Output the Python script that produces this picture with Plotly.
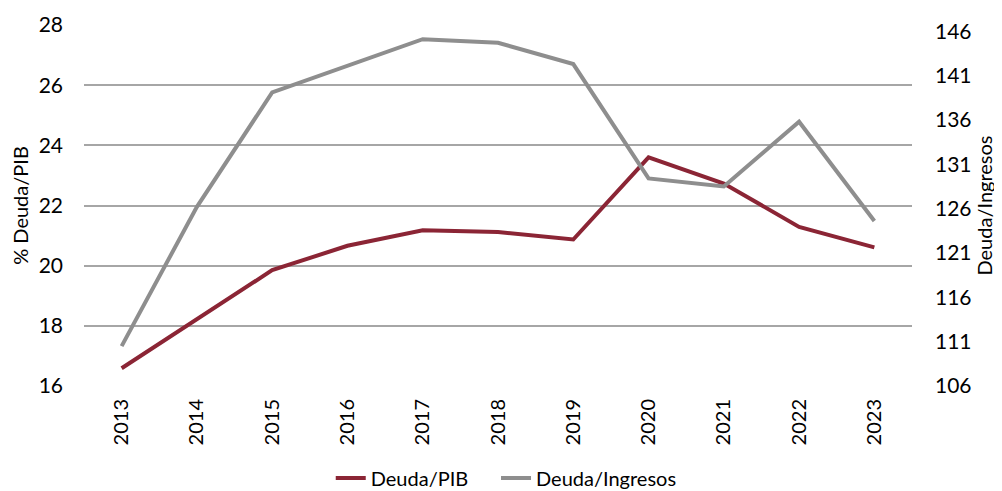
import plotly.graph_objects as go

years = ["2013", "2014", "2015", "2016", "2017", "2018", "2019", "2020", "2021", "2022", "2023"]
deuda_pib = [16.59, 18.22, 19.85, 20.66, 21.18, 21.12, 20.87, 23.60, 22.73, 21.29, 20.61]
deuda_ingresos = [110.5, 126.2, 139.1, 142.1, 145.1, 144.7, 142.3, 129.4, 128.5, 135.8, 124.6]
left_ticks = [16, 18, 20, 22, 24, 26, 28]
right_ticks = [106, 111, 116, 121, 126, 131, 136, 141, 146]

RED = "#8B2535"
GRAY = "#8E8E8E"
FONT = "Lato"

fig = go.Figure()
fig.add_trace(go.Scatter(x=years, y=deuda_pib, name="Deuda/PIB", mode="lines",
                         line=dict(color=RED, width=4), yaxis="y", legend="legend"))
fig.add_trace(go.Scatter(x=years, y=deuda_ingresos, name="Deuda/Ingresos", mode="lines",
                         line=dict(color=GRAY, width=4), yaxis="y2", legend="legend2"))

legend_common = dict(orientation="h", xanchor="left", y=-0.255, yanchor="middle",
                     font=dict(size=20, family=FONT), bgcolor="rgba(0,0,0,0)")

fig.update_layout(
    width=994, height=483,
    margin=dict(l=76, r=90, t=17, b=105, autoexpand=False),
    plot_bgcolor="white", paper_bgcolor="white",
    font=dict(family=FONT, size=21, color="#000000"),
    showlegend=True,
    legend=dict(x=0.298, **legend_common),
    legend2=dict(x=0.4976, **legend_common),
    xaxis=dict(type="category", range=[-0.5, 10.5], tickangle=-90,
               showgrid=False, showline=False, ticks="", tickfont=dict(size=20),
               ticklabelstandoff=8),
    yaxis=dict(range=[16, 28], tickvals=left_ticks, showgrid=True,
               gridcolor="#A6A6A6", gridwidth=1.5, zeroline=False, showline=False,
               ticks="", ticklabelstandoff=20,
               title=dict(text="% Deuda/PIB", font=dict(size=20), standoff=10)),
    yaxis2=dict(range=[106, 146.7], tickvals=right_ticks, overlaying="y", side="right",
                showgrid=False, zeroline=False, showline=False, ticks="",
                ticklabelstandoff=22,
                title=dict(text="Deuda/Ingresos", font=dict(size=20), standoff=3)),
)

fig.write_html("out.html")
